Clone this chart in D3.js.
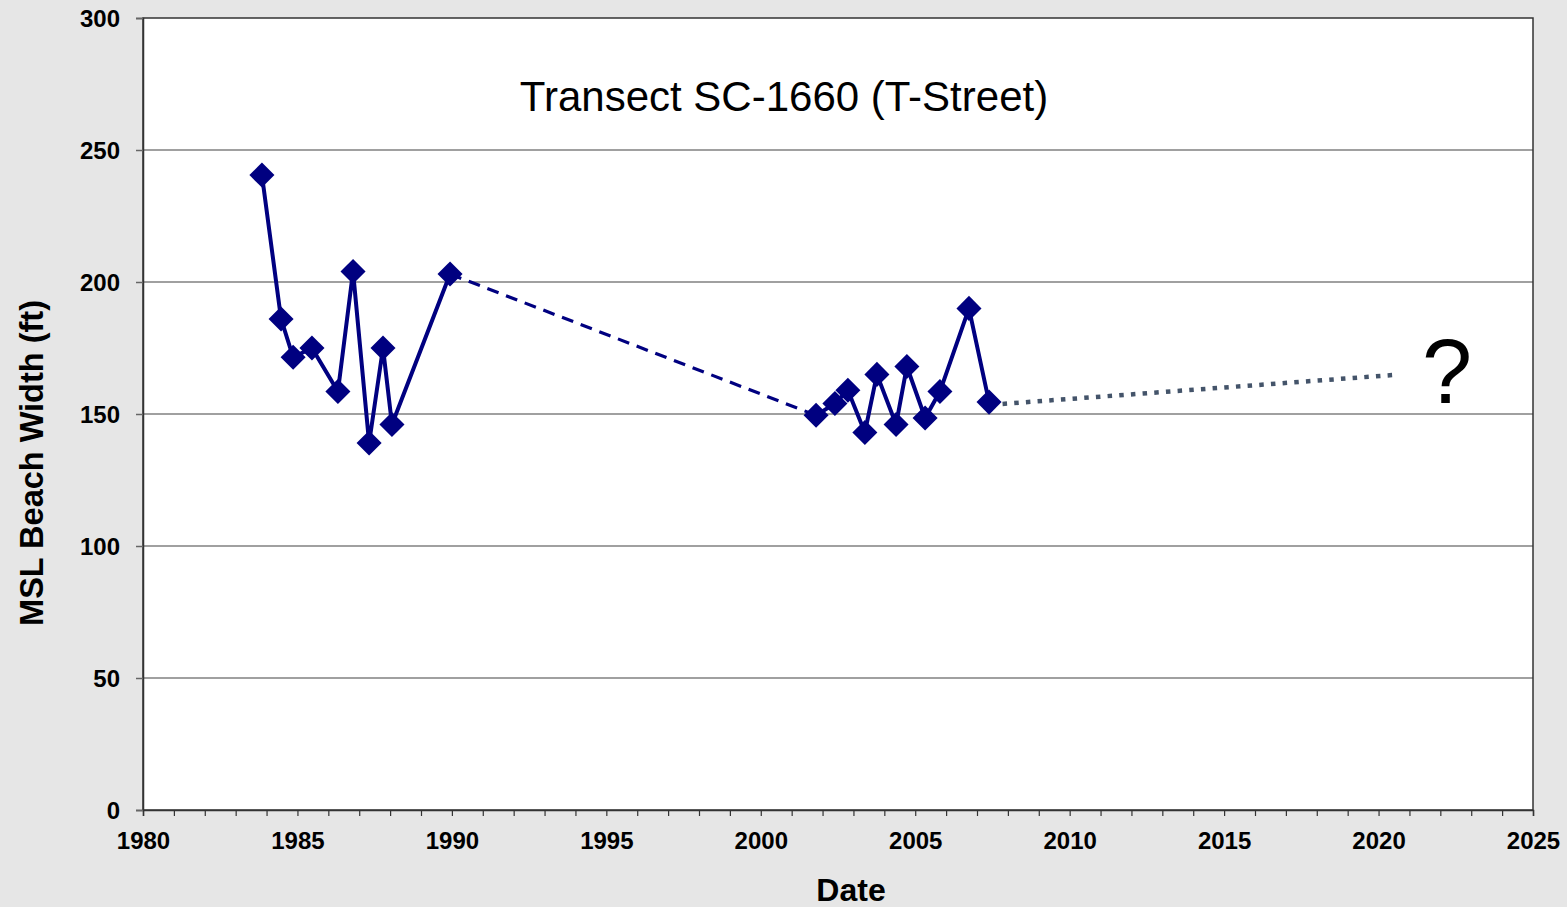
<!DOCTYPE html>
<meta charset="utf-8">
<html>
<head>
<style>
  body { margin: 0; background: #e6e6e6; }
  .tick text { font-family: "Liberation Sans", Arial, sans-serif; font-weight: bold; font-size: 24px; fill: #000; }
</style>
</head>
<script src="https://d3js.org/d3.v7.min.js"></script>
<body>
<div id="vis"></div>
<script>
  // survey dates (decimal years) and MSL beach widths (ft)
  var surveyYears = [1983.85, 1984.47, 1984.86, 1985.47, 1986.31, 1986.8, 1987.32, 1987.77, 1988.06, 1989.94,
                     2001.79, 2002.4, 2002.82, 2003.37, 2003.76, 2004.38, 2004.73, 2005.32, 2005.8, 2006.74, 2007.39];
  var beachWidth  = [240.5, 186, 171.5, 175, 158.5, 204, 139, 175, 146, 203,
                     149.5, 154, 159, 143, 165, 146, 168, 148.5, 158.5, 190, 154.5];
  // projected trend line (dotted)
  var trendYears = [2007.45, 2020.5];
  var trendWidth = [153.5, 164.8];
  var xTicks = [1980, 1985, 1990, 1995, 2000, 2005, 2010, 2015, 2020, 2025];
  var yTicks = [0, 50, 100, 150, 200, 250, 300];

  var W = 1567, H = 907;
  var margin = {top: 18, right: 34, bottom: 97, left: 143},
  width = W - margin.left - margin.right,
  height = H - margin.top - margin.bottom;

  var x = d3.scaleLinear().domain([1980, 2025]).range([0, width]);
  var y = d3.scaleLinear().domain([0, 300]).range([height, 0]);

  var svg = d3.select("#vis").append("svg")
  .attr("width", W)
  .attr("height", H)
  .style("display", "block")
  .style("background", "#e6e6e6")
  .append("g")
  .attr("transform", "translate(" + margin.left + "," + margin.top + ")");

  svg.append("rect")
  .attr("x", 0).attr("y", 0)
  .attr("width", width).attr("height", height)
  .style("fill", "#fff");

  // gridlines
  svg.selectAll(".grid")
  .data(yTicks.filter(function(d){ return d > 0 && d < 300; }))
  .enter().append("line")
  .attr("x1", 0).attr("x2", width)
  .attr("y1", function(d){ return y(d); })
  .attr("y2", function(d){ return y(d); })
  .style("stroke", "#808080")
  .style("stroke-width", 1.5);

  // border
  svg.append("rect")
  .attr("x", 0).attr("y", 0)
  .attr("width", width).attr("height", height)
  .style("fill", "none")
  .style("stroke", "#333")
  .style("stroke-width", 1.5);

  // axes
  var xMinor = d3.range(1980, 2026, 1);
  var xAxis = svg.append("g")
  .attr("transform", "translate(0," + height + ")")
  .call(d3.axisBottom(x).tickValues(xMinor).tickSize(6).tickFormat(function(d){ return xTicks.indexOf(d) >= 0 ? d : ""; }));
  xAxis.select(".domain").style("stroke", "#333").style("stroke-width", 1.5);
  xAxis.selectAll(".tick line").style("stroke", "#333").style("stroke-width", 1.2);
  xAxis.selectAll(".tick text").attr("dy", 0).attr("y", 39);

  var yAxis = svg.append("g")
  .call(d3.axisLeft(y).tickValues(yTicks).tickSize(7).tickPadding(16));
  yAxis.select(".domain").style("stroke", "#333").style("stroke-width", 1.5);
  yAxis.selectAll(".tick line").style("stroke", "#666").style("stroke-width", 1.5);
  yAxis.selectAll(".tick text").attr("dy", "0.36em");

  var pts = surveyYears.map(function(d, i){ return {year: d, width: beachWidth[i]}; });
  var line = d3.line()
  .x(function(d){ return x(d.year); })
  .y(function(d){ return y(d.width); });

  // solid segments, dashed gap between 1990 and 2001
  svg.append("path").datum(pts.slice(0, 10)).attr("d", line)
  .style("fill", "none").style("stroke", "#000080").style("stroke-width", 4).style("stroke-linejoin", "round");
  svg.append("path").datum(pts.slice(9, 11)).attr("d", line)
  .style("fill", "none").style("stroke", "#000080").style("stroke-width", 3.2).style("stroke-dasharray", "12,8");
  svg.append("path").datum(pts.slice(10)).attr("d", line)
  .style("fill", "none").style("stroke", "#000080").style("stroke-width", 4).style("stroke-linejoin", "round");

  // trend
  var trend = trendYears.map(function(d, i){ return {year: d, width: trendWidth[i]}; });
  svg.append("path").datum(trend).attr("d", line)
  .style("fill", "none").style("stroke", "#44546a").style("stroke-width", 4.5).style("stroke-dasharray", "4.5,7.2");

  // markers
  var diamond = d3.symbol().type(d3.symbolDiamond2).size(400);
  svg.selectAll(".pt")
  .data(pts)
  .enter().append("path")
  .attr("d", diamond)
  .attr("transform", function(d){ return "translate(" + x(d.year) + "," + y(d.width) + ")"; })
  .style("fill", "#000080");

  // title
  svg.append("text")
  .attr("x", 784 - margin.left).attr("y", 93)
  .style("text-anchor", "middle")
  .style("font-family", "'Liberation Sans', Arial, sans-serif")
  .style("font-size", "42px")
  .text("Transect SC-1660 (T-Street)");

  svg.append("text")
  .attr("x", 1447 - margin.left).attr("y", 403 - margin.top)
  .style("text-anchor", "middle")
  .style("font-family", "'Liberation Sans', Arial, sans-serif")
  .style("font-size", "90px")
  .text("?");

  // axis titles
  svg.append("text")
  .attr("x", 851 - margin.left).attr("y", height + 91)
  .style("text-anchor", "middle")
  .style("font-family", "'Liberation Sans', Arial, sans-serif")
  .style("font-weight", "bold")
  .style("font-size", "32px")
  .text("Date");

  svg.append("text")
  .attr("transform", "rotate(-90)")
  .attr("x", -(463 - margin.top)).attr("y", 43 - margin.left)
  .style("text-anchor", "middle")
  .style("font-family", "'Liberation Sans', Arial, sans-serif")
  .style("font-weight", "bold")
  .style("font-size", "32.5px")
  .text("MSL Beach Width (ft)");
</script>
</body>
</html>
